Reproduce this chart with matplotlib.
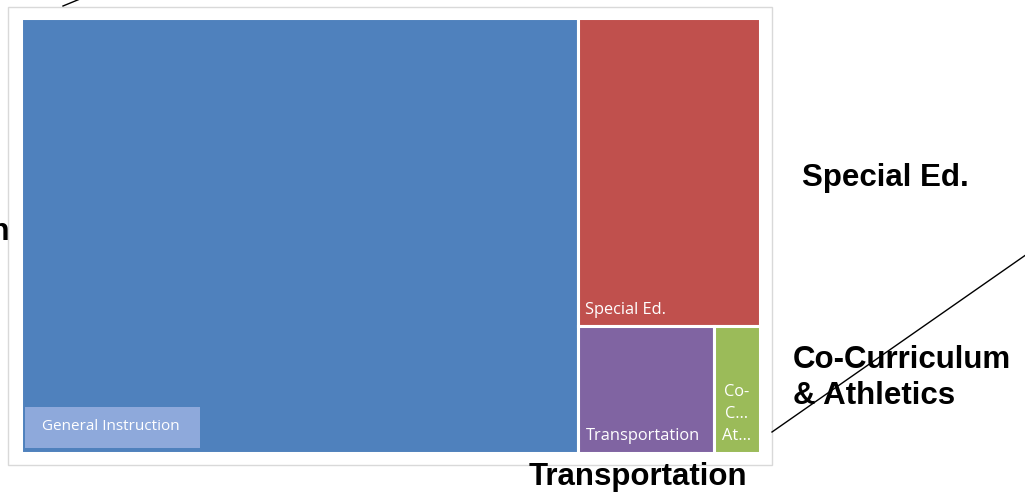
import matplotlib
matplotlib.use("Agg")
import matplotlib.pyplot as plt
from matplotlib.patches import Rectangle
from matplotlib.lines import Line2D

# budget shares (percent), read from the rectangle areas
categories = ["General Instruction", "Special Ed.", "Transportation", "Co-Curriculum & Athletics"]
shares = [75.5, 17.4, 5.3, 1.8]
inner_labels = ["General Instruction", "Special Ed.", "Transportation", "Co-\nC…\nAt…"]
colors = ["#4F81BD", "#C0504D", "#8064A2", "#9BBB59"]

W, H = 1025, 495
fig = plt.figure(figsize=(W / 100, H / 100), dpi=100)
fig.patch.set_facecolor("white")

# overlay in pixel coords for frame, leader lines and outside labels
ov = fig.add_axes([0, 0, 1, 1])
ov.set_xlim(0, W)
ov.set_ylim(H, 0)
ov.axis("off")
ov.add_patch(Rectangle((8, 7), 764, 458, fill=False, ec="#D9D9D9", lw=1.0))

# treemap axes
x0, y0, w, h = 20.5, 17.5, 739, 435
ax = fig.add_axes([x0 / W, 1 - (y0 + h) / H, w / W, h / H])
ax.set_xlim(0, 1)
ax.set_ylim(1, 0)
ax.axis("off")

total = sum(shares)
f = [s / total for s in shares]
# first item: full height column on the left
rects = []
gw = f[0]
rects.append((0, 0, gw, 1))
col_w = 1 - gw
# second item: top of the right column
sh = f[1] / col_w
rects.append((gw, 0, col_w, sh))
# remaining items split the bottom strip side by side
rest = f[2] + f[3]
bx = gw
for v in f[2:]:
    bw = col_w * v / rest
    rects.append((bx, sh, bw, 1 - sh))
    bx += bw

for (rx, ry, rw, rh), c in zip(rects, colors):
    ax.add_patch(Rectangle((rx, ry), rw, rh, fc=c, ec="white", lw=2.2))

lab_font = dict(color="white", fontsize=11.8, family="Open Sans")
# General Instruction label with lighter box
ax.add_patch(Rectangle(((25 - x0) / w, (407 - y0) / h), 175 / w, 41 / h,
                       fc="#8EA9DB", ec="none"))
ax.text((111 - x0) / w, (427 - y0) / h, inner_labels[0],
        ha="center", va="center", color="white", fontsize=11, family="Open Sans")
ax.text(rects[1][0] + 7 / w, rects[1][1] + rects[1][3] - 16 / h, inner_labels[1],
        ha="left", va="center", **lab_font)
ax.text(rects[2][0] + 7 / w, 1 - 17 / h, inner_labels[2],
        ha="left", va="center", **lab_font)
ax.text(rects[3][0] + rects[3][2] / 2, 1 - 8 / h, inner_labels[3],
        ha="center", va="bottom", linespacing=1.5, **lab_font)

# outside labels with leader lines
out_font = dict(fontsize=22.5, fontweight="bold", family="Liberation Sans", color="black")
ov.text(10, 232, "General Instruction", ha="right", va="center", **out_font)
ov.text(885, 178, categories[1], ha="center", va="center", **out_font)
ov.text(793, 378, "Co-Curriculum\n& Athletics", ha="left", va="center",
        linespacing=1.3, **out_font)
ov.text(638, 477, categories[2], ha="center", va="center", **out_font)
ov.add_line(Line2D([63, 80], [6, -1], color="black", lw=1.0))
ov.add_line(Line2D([772, 1030], [432, 252], color="black", lw=1.0))

fig.savefig("out.png", dpi=100)
